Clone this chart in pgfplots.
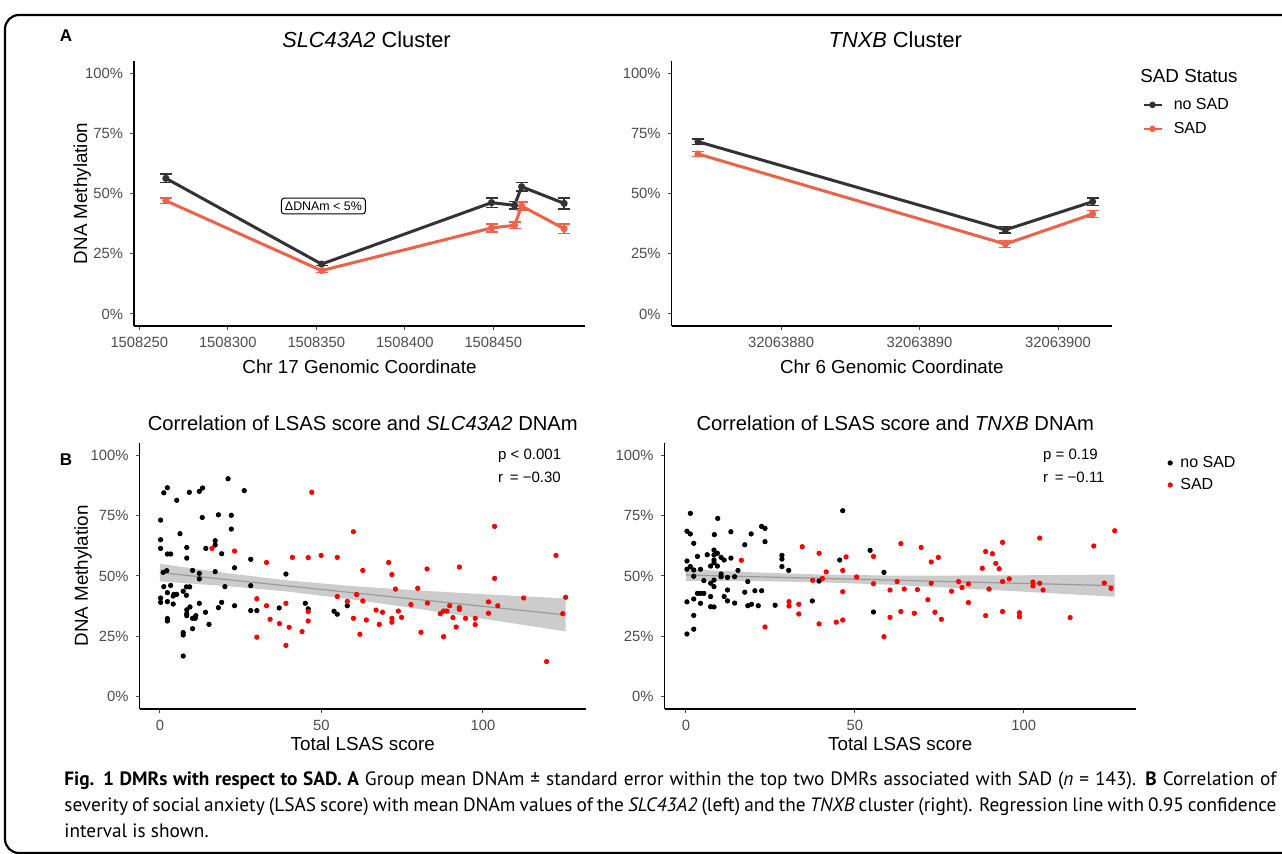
\documentclass[border=0pt]{standalone}
\usepackage{pgfplots}
\pgfplotsset{compat=1.18}
\usepackage{fontspec}
\setmainfont{Liberation Sans}
\newfontfamily\capfont{PT Sans}

\definecolor{noSAD}{HTML}{333333}
\definecolor{SADline}{RGB}{240,98,72}
\definecolor{tickgray}{HTML}{4D4D4D}
\definecolor{bandgray}{HTML}{999999}
\definecolor{regline}{HTML}{9A9A9A}

% ggplot2 classic look
\pgfplotsset{
  gg/.style={
    scale only axis,
    anchor=south west,
    axis lines*=left,
    axis line style={black, line width=0.55pt},
    tick align=outside,
    major tick length=2pt,
    tick style={tickgray, line width=0.5pt},
    ticklabel style={font=\fontsize{7.4}{8}\selectfont, text=tickgray},
    /pgf/number format/assume math mode=true,
    label style={font=\fontsize{9.4}{11}\selectfont},
    ymin=-5, ymax=105,
    ytick={0,25,50,75,100},
    yticklabels={0\%,25\%,50\%,75\%,100\%},
    ylabel={DNA Methylation},
    clip=false,
  },
  ggA/.style={gg,
    height=132.5pt,
    title style={font=\fontsize{10.9}{12}\selectfont, at={(axis description cs:0.5,1)}, anchor=base, yshift=0.6pt},
    xlabel style={at={(axis description cs:0.5,0)}, anchor=base, yshift=-23.9pt},
    error bars/y dir=both, error bars/y explicit,
    error bars/error bar style={line width=0.7pt},
    error bars/error mark options={rotate=90, mark size=3pt, line width=0.7pt},
  },
  ggB/.style={gg,
    height=133pt,
    title style={font=\fontsize{10.1}{12}\selectfont, at={(axis description cs:0.5,1)}, anchor=base, yshift=0pt},
    xlabel style={at={(axis description cs:0.5,0)}, anchor=base, yshift=-20.9pt},
    xtick={0,50,100},
    xlabel={Total LSAS score},
  },
}

% A: group means (position offset from chromosome start given in tick labels), mean %, s.e.
\pgfplotstableread{
pos mean se
265 56.3 1.8
353 20.7 0.7
449 46.2 2.0
462 45.1 1.6
466 52.8 1.7
490 45.9 2.3
}\slcNo
\pgfplotstableread{
pos mean se
265 47.0 1.2
353 18.0 0.7
449 35.7 1.7
462 36.8 1.4
466 44.8 1.7
490 35.4 1.9
}\slcSad
\pgfplotstableread{
pos mean se
874 71.5 1.1
896.2 34.9 1.3
902.5 46.6 1.5
}\tnxNo
\pgfplotstableread{
pos mean se
874 66.4 1.0
896.2 29.0 1.5
902.5 41.5 1.5
}\tnxSad

% B: LSAS score vs DNAm (%)
\pgfplotstableread{
lsas dnam
0.2 73.1
0.2 65.0
0.2 61.4
1.2 84.4
2.3 86.5
5.2 81.3
6.2 67.5
2.3 59.1
3.3 59.1
1.0 51.5
2.1 52.2
0.2 40.9
0.2 39.1
1.2 45.6
2.3 43.1
3.3 46.1
4.1 38.4
4.3 42.4
5.2 42.4
4.1 41.7
2.3 39.4
2.3 32.4
2.3 31.4
7.2 26.6
7.2 25.6
7.2 16.9
8.3 61.8
8.3 57.4
9.1 84.6
8.2 45.5
9.2 45.5
7.2 43.7
8.2 42.0
8.3 36.0
8.3 34.4
9.3 37.2
8.3 33.6
10.1 32.5
11.1 33.6
10.9 32.5
10.1 28.2
10.1 52.3
12.2 51.1
12.2 48.8
12.2 85.0
13.2 86.4
13.1 74.2
14.2 61.4
12.2 38.7
14.1 35.0
15.2 30.0
17.1 64.6
17.1 62.8
17.1 51.8
18.1 75.3
19.1 59.2
20.1 45.6
19.1 39.1
18.1 36.9
21.1 90.2
22.1 75.1
22.1 69.4
23.1 53.4
23.1 37.7
26.1 85.3
28.1 56.9
28.1 46.0
28.1 35.7
30.0 35.7
36.9 36.8
39.0 50.8
45.0 38.7
45.9 36.4
58.0 37.7
53.9 35.4
54.9 34.2
}\slcBlack
\pgfplotstableread{
lsas dnam
16.1 61.4
23.1 60.3
30.0 40.6
30.0 24.7
33.0 55.6
33.0 37.7
34.1 32.1
37.0 30.3
39.0 38.7
39.0 21.3
40.0 28.8
41.0 57.7
44.0 27.0
45.9 57.6
45.9 35.3
45.9 31.4
47.0 84.6
49.9 58.5
54.9 57.7
59.9 68.3
54.9 41.5
58.0 39.5
59.9 32.5
61.9 25.9
60.9 42.3
62.8 52.3
62.8 39.7
63.9 31.8
66.9 35.9
67.9 30.0
68.9 35.0
70.8 55.6
71.8 50.6
72.9 44.6
71.8 32.5
71.8 30.9
73.8 35.5
74.8 32.9
77.7 38.2
79.8 44.9
80.8 26.7
82.7 52.9
82.8 38.8
86.8 34.4
87.8 35.5
88.8 35.5
87.8 24.9
89.7 37.7
90.7 32.8
91.7 28.9
92.7 53.7
92.7 36.9
92.7 36.2
94.6 32.5
97.6 32.5
97.6 29.9
101.7 39.3
101.7 34.6
103.6 70.5
103.6 49.0
104.6 37.7
112.6 40.9
119.7 14.6
122.6 58.5
124.7 34.4
125.6 41.2
}\slcRed
\pgfplotstableread{
lsas dnam
1.3 75.9
0.3 68.5
1.3 67.4
2.3 63.5
0.3 56.2
0.3 52.8
1.3 53.9
2.3 52.5
2.3 49.9
0.3 39.3
2.3 40.5
2.3 33.7
0.3 26.0
2.3 28.0
3.4 58.1
3.4 42.8
4.3 42.8
5.3 42.8
4.3 38.7
4.3 52.8
5.3 48.1
6.3 58.8
7.3 54.1
8.3 56.6
8.3 58.7
8.3 60.7
8.3 55.5
9.3 59.4
9.3 54.1
8.3 48.3
7.3 47.0
8.3 45.6
7.3 41.5
7.3 37.3
8.3 37.2
9.4 73.8
8.4 67.1
10.4 57.7
11.3 56.6
10.4 50.8
10.4 49.7
12.3 49.4
12.3 44.2
11.3 41.5
12.3 39.7
13.3 68.3
13.3 57.4
14.4 49.7
14.4 38.8
15.4 52.3
17.4 62.9
17.4 43.3
18.3 47.7
19.3 67.4
18.3 37.7
19.4 38.3
20.4 43.9
21.4 37.7
22.4 43.9
22.4 70.5
23.4 69.7
23.4 64.2
26.4 37.9
28.4 58.5
28.4 57.0
28.4 53.9
30.4 52.3
37.4 39.7
39.4 47.9
45.5 56.6
46.4 77.0
54.5 60.6
55.5 35.1
58.6 51.5
}\tnxBlack
\pgfplotstableread{
lsas dnam
16.4 56.5
23.4 28.9
30.5 39.4
30.5 37.6
33.4 38.3
33.4 34.3
34.4 62.1
37.5 48.2
40.4 49.0
39.4 59.4
39.4 30.2
41.5 51.7
44.5 30.9
46.4 52.3
46.4 43.5
46.4 31.8
47.4 57.9
50.5 49.6
55.5 58.1
55.5 46.8
58.6 24.9
60.4 44.2
60.4 32.9
62.5 47.7
63.6 63.4
63.6 35.3
64.6 44.6
67.6 34.6
68.5 44.4
69.6 61.8
71.6 40.2
72.6 55.8
72.6 47.0
73.7 35.0
74.7 57.7
75.6 32.1
78.6 43.7
80.7 47.7
81.7 45.2
83.6 46.7
83.6 39.0
87.7 53.2
88.7 60.1
88.7 33.6
89.7 44.6
90.7 59.2
91.7 55.2
92.7 53.0
93.7 63.9
93.7 47.7
93.7 35.3
95.7 48.8
98.7 34.8
98.7 33.2
102.7 47.5
102.7 45.9
104.7 65.7
104.7 47.0
105.7 44.2
113.7 32.8
120.7 62.4
123.8 47.1
125.8 44.9
126.9 68.7
}\tnxRed

\begin{document}
\begin{tikzpicture}
\useasboundingbox (0,0) rectangle (641pt,-427pt);
\begin{scope}
  \clip (0,0) rectangle (641pt,-427pt);
  \draw[line width=1.1pt, rounded corners=7pt] (700pt,-426.5pt) -- (2.5pt,-426.5pt) -- (2.5pt,-7.5pt) -- (700pt,-7.5pt);
\end{scope}

% ---------- A left ----------
\begin{axis}[ggA, at={(67pt,-163pt)}, width=225.5pt,
  xmin=247, xmax=501.8,
  xtick={250,300,350,400,450},
  xticklabels={1508250,1508300,1508350,1508400,1508450},
  xlabel={Chr 17 Genomic Coordinate},
  title={\textit{SLC43A2} Cluster},
  title style={xshift=3.5pt},
  ylabel style={at={(axis description cs:-0.104,0.5)}, anchor=base},
]
\addplot[noSAD, line width=1.5pt, mark=*, mark size=1pt] table[x=pos, y=mean, y error=se] {\slcNo};
\addplot[SADline, line width=1.5pt, mark=*, mark size=1pt] table[x=pos, y=mean, y error=se] {\slcSad};
\node[draw=black, line width=0.5pt, rounded corners=1.5pt, fill=white, inner sep=1.8pt,
  font=\fontsize{6.2}{7}\selectfont] at (axis cs:354,44.8) {ΔDNAm < 5\%};
\end{axis}

% ---------- A right ----------
\begin{axis}[ggA, at={(335.85pt,-163pt)}, width=220.15pt,
  xmin=872.1, xmax=903.9,
  xtick={880,890,900},
  xticklabels={32063880,32063890,32063900},
  xlabel={Chr 6 Genomic Coordinate},
  ylabel={},
  title={\textit{TNXB} Cluster},
  title style={xshift=1.75pt},
  legend style={at={(axis description cs:1.068,0.789)}, anchor=west, draw=none, fill=none,
    inner sep=0pt, row sep=2.5pt, font=\fontsize{8}{9}\selectfont,
    nodes={inner sep=1pt, text height=6pt, text depth=1.5pt},
    /tikz/every odd column/.append style={column sep=4.5pt}},
  legend cell align=left,
  legend image code/.code={\draw[#1, line width=1.2pt, mark repeat=2, mark phase=2]
    plot coordinates {(0pt,0pt) (4.5pt,0pt) (9pt,0pt)};},
]
\addplot[noSAD, line width=1.5pt, mark=*, mark size=1pt] table[x=pos, y=mean, y error=se] {\tnxNo};
\addlegendentry{no SAD}
\addplot[SADline, line width=1.5pt, mark=*, mark size=1pt] table[x=pos, y=mean, y error=se] {\tnxSad};
\addlegendentry{SAD}
\end{axis}

% ---------- B left ----------
\begin{axis}[ggB, at={(69.8pt,-354.5pt)}, width=223.2pt,
  xmin=-6.3, xmax=131.9,
  title={Correlation of LSAS score and \textit{SLC43A2} DNAm},
  ylabel style={at={(axis description cs:-0.116,0.5)}, anchor=base},
]
\addplot[only marks, mark=*, mark size=1.1pt, black] table[x=lsas, y=dnam] {\slcBlack};
\addplot[only marks, mark=*, mark size=1.1pt, red] table[x=lsas, y=dnam] {\slcRed};
\addplot[draw=none, fill=bandgray, fill opacity=0.5] coordinates {
  (0,55.05) (20,51.3) (40,48.1) (60,45.8) (80,44.0) (100,42.5) (125.6,40.7)
  (125.6,27.1) (100,32.3) (80,36.4) (60,40.2) (40,43.5) (20,45.9) (0,47.75)} -- cycle;
\addplot[regline, line width=0.6pt] coordinates {(0,51.4) (125.6,33.9)};
\node[anchor=west, font=\fontsize{7.5}{9}\selectfont, inner sep=0pt] at (axis cs:104.6,99.6) {p < 0.001};
\node[anchor=west, font=\fontsize{7.5}{9}\selectfont, inner sep=0pt] at (axis cs:104.6,90.9) {r \,= −0.30};
\end{axis}

% ---------- B right ----------
\begin{axis}[ggB, at={(332.25pt,-354.5pt)}, width=235.75pt,
  xmin=-6.35, xmax=133.2,
  ylabel={},
  title={Correlation of LSAS score and \textit{TNXB} DNAm},
  title style={xshift=-2.5pt},
  legend style={at={(axis description cs:1.067,0.8835)}, anchor=west, draw=none, fill=none,
    inner sep=0pt, row sep=1.5pt, font=\fontsize{8}{9}\selectfont,
    nodes={inner sep=1pt, text height=6pt, text depth=1.5pt},
    /tikz/every odd column/.append style={column sep=3pt}},
  legend cell align=left,
]
\addplot[only marks, mark=*, mark size=1.1pt, black] table[x=lsas, y=dnam] {\tnxBlack};
\addlegendentry{no SAD}
\addplot[only marks, mark=*, mark size=1.1pt, red] table[x=lsas, y=dnam] {\tnxRed};
\addlegendentry{SAD}
\addplot[draw=none, fill=bandgray, fill opacity=0.5, forget plot] coordinates {
  (0,52.8) (20,51.5) (40,50.6) (60,50.2) (80,50.2) (100,50.3) (126.9,50.6)
  (126.9,41.4) (100,43.5) (80,45.0) (60,46.4) (40,47.4) (20,47.9) (0,48.0)} -- cycle;
\addplot[regline, line width=0.6pt, forget plot] coordinates {(0,50.4) (126.9,46.0)};
\node[anchor=west, font=\fontsize{7.5}{9}\selectfont, inner sep=0pt] at (axis cs:105.6,99.6) {p = 0.19};
\node[anchor=west, font=\fontsize{7.5}{9}\selectfont, inner sep=0pt] at (axis cs:105.6,90.9) {r \,= −0.11};
\end{axis}

% ---------- panel letters, legend title, caption ----------
\begin{scope}[x=0.5pt, y=-0.5pt]
\node[font=\bfseries\fontsize{8.5}{10}\selectfont] at (66,36) {A};
\node[font=\bfseries\fontsize{8.5}{10}\selectfont] at (66,460) {B};
\node[anchor=west, font=\fontsize{9.4}{11}\selectfont, inner sep=0pt] at (1140,76) {SAD Status};
\node[anchor=base west, inner sep=0pt, font=\capfont\fontsize{9.65}{12}\selectfont] at (64,786)
  {\makebox[606pt][s]{\textbf{Fig. 1 DMRs with respect to SAD. A} Group mean DNAm ± standard error within the top two DMRs associated with SAD (\textit{n} = 143). \textbf{B} Correlation of}};
\node[anchor=base west, inner sep=0pt, font=\capfont\fontsize{9.65}{12}\selectfont] at (64,812)
  {\makebox[606pt][s]{severity of social anxiety (LSAS score) with mean DNAm values of the \textit{SLC43A2} (left) and the \textit{TNXB} cluster (right). Regression line with 0.95 confidence}};
\node[anchor=base west, inner sep=0pt, font=\capfont\fontsize{9.65}{12}\selectfont] at (64,838)
  {interval is shown.};
\end{scope}
\end{tikzpicture}
\end{document}
